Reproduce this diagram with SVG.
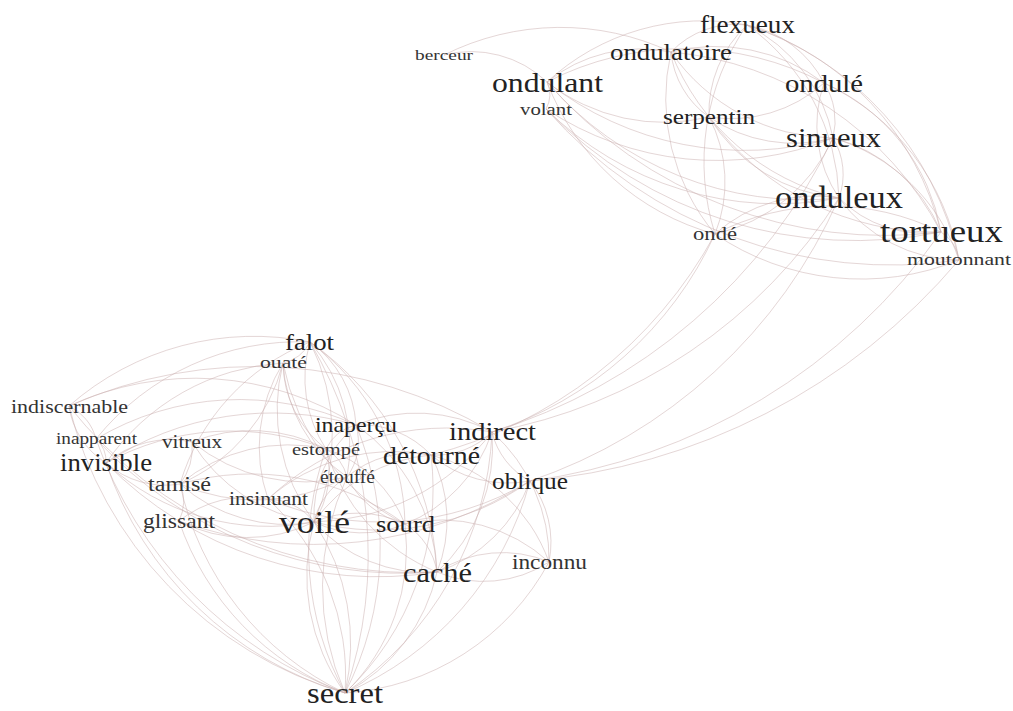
<svg xmlns="http://www.w3.org/2000/svg" width="1013" height="711" viewBox="0 0 1013 711">
<rect width="1013" height="711" fill="#fff"/>
<g id="edges" fill="none" stroke="#c9aeae" stroke-opacity="0.5" stroke-width="1">
<path d="M547 82A230 230 0 0 1 747 25"/>
<path d="M547 82A150 150 0 0 1 671 52"/>
<path d="M547 82A300 300 0 0 1 824 83"/>
<path d="M547 82A320 320 0 0 0 833 138"/>
<path d="M547 82A340 340 0 0 0 839 198"/>
<path d="M547 82A450 450 0 0 0 941 232"/>
<path d="M547 82A30 30 0 0 1 546 109"/>
<path d="M444 55A110 110 0 0 1 547 82"/>
<path d="M444 55A260 260 0 0 1 671 52"/>
<path d="M547 82A190 190 0 0 0 709 117"/>
<path d="M547 82A250 250 0 0 0 715 234"/>
<path d="M546 109A330 330 0 0 0 839 198"/>
<path d="M546 109A430 430 0 0 0 941 232"/>
<path d="M546 109A460 460 0 0 0 959 260"/>
<path d="M747 25A90 90 0 0 0 671 52"/>
<path d="M747 25A110 110 0 0 1 824 83"/>
<path d="M747 25A120 120 0 0 0 709 117"/>
<path d="M747 25A160 160 0 0 1 833 138"/>
<path d="M747 25A220 220 0 0 1 839 198"/>
<path d="M747 25A290 290 0 0 1 941 232"/>
<path d="M747 25A320 320 0 0 1 959 260"/>
<path d="M747 25A240 240 0 0 0 715 234"/>
<path d="M671 52A180 180 0 0 1 824 83"/>
<path d="M671 52A200 200 0 0 0 833 138"/>
<path d="M671 52A240 240 0 0 0 839 198"/>
<path d="M671 52A340 340 0 0 1 941 232"/>
<path d="M671 52A90 90 0 0 0 709 117"/>
<path d="M824 83A70 70 0 0 1 833 138"/>
<path d="M824 83A130 130 0 0 0 839 198"/>
<path d="M824 83A200 200 0 0 1 941 232"/>
<path d="M824 83A140 140 0 0 1 709 117"/>
<path d="M824 83A240 240 0 0 1 959 260"/>
<path d="M709 117A150 150 0 0 0 833 138"/>
<path d="M709 117A170 170 0 0 0 839 198"/>
<path d="M709 117A280 280 0 0 0 941 232"/>
<path d="M709 117A140 140 0 0 1 715 234"/>
<path d="M833 138A70 70 0 0 1 839 198"/>
<path d="M833 138A160 160 0 0 1 941 232"/>
<path d="M833 138A170 170 0 0 1 715 234"/>
<path d="M839 198A120 120 0 0 0 941 232"/>
<path d="M839 198A150 150 0 0 0 715 234"/>
<path d="M839 198A150 150 0 0 0 959 260"/>
<path d="M941 232A40 40 0 0 1 959 260"/>
<path d="M715 234A260 260 0 0 0 959 260"/>
<path d="M715 234A250 250 0 0 1 941 232"/>
<path d="M546 109A310 310 0 0 0 833 138"/>
<path d="M671 52A210 210 0 0 0 715 234"/>
<path d="M833 138A190 190 0 0 1 959 260"/>
<path d="M959 260A630 630 0 0 1 530 481"/>
<path d="M941 232A600 600 0 0 1 530 481"/>
<path d="M839 198A520 520 0 0 1 530 481"/>
<path d="M839 198A520 520 0 0 1 492 432"/>
<path d="M833 138A560 560 0 0 1 492 432"/>
<path d="M715 234A370 370 0 0 1 492 432"/>
<path d="M715 234A450 450 0 0 1 431 455"/>
<path d="M106 463A360 360 0 0 0 345 693"/>
<path d="M69 406A400 400 0 0 0 345 693"/>
<path d="M96 439A420 420 0 0 0 345 693"/>
<path d="M179 521A280 280 0 0 0 345 693"/>
<path d="M180 484A300 300 0 0 0 345 693"/>
<path d="M314 522A200 200 0 0 0 345 693"/>
<path d="M345 693A220 220 0 0 0 314 522"/>
<path d="M268 499A240 240 0 0 1 345 693"/>
<path d="M326 449A300 300 0 0 0 345 693"/>
<path d="M356 425A320 320 0 0 1 345 693"/>
<path d="M345 693A180 180 0 0 0 437 572"/>
<path d="M345 693A200 200 0 0 0 405 524"/>
<path d="M549 562A250 250 0 0 1 345 693"/>
<path d="M431 455A280 280 0 0 1 345 693"/>
<path d="M492 432A330 330 0 0 1 345 693"/>
<path d="M345 693A320 320 0 0 0 530 481"/>
<path d="M345 693A260 260 0 0 1 347 477"/>
<path d="M345 693A420 420 0 0 0 310 342"/>
<path d="M314 522A150 150 0 0 0 437 572"/>
<path d="M314 522A110 110 0 0 1 405 524"/>
<path d="M405 524A110 110 0 0 1 314 522"/>
<path d="M314 522A70 70 0 0 1 347 477"/>
<path d="M314 522A90 90 0 0 0 326 449"/>
<path d="M180 484A160 160 0 0 0 314 522"/>
<path d="M106 463A240 240 0 0 0 314 522"/>
<path d="M314 522A120 120 0 0 1 356 425"/>
<path d="M268 499A60 60 0 0 1 314 522"/>
<path d="M179 521A150 150 0 0 0 314 522"/>
<path d="M310 342A210 210 0 0 1 314 522"/>
<path d="M283 363A190 190 0 0 0 314 522"/>
<path d="M314 522A160 160 0 0 1 431 455"/>
<path d="M314 522A230 230 0 0 0 492 432"/>
<path d="M192 442A170 170 0 0 0 314 522"/>
<path d="M314 522A260 260 0 0 0 530 481"/>
<path d="M437 572A120 120 0 0 1 549 562"/>
<path d="M549 562A120 120 0 0 1 437 572"/>
<path d="M405 524A70 70 0 0 1 437 572"/>
<path d="M106 463A380 380 0 0 0 437 572"/>
<path d="M356 425A190 190 0 0 1 437 572"/>
<path d="M431 455A140 140 0 0 1 437 572"/>
<path d="M492 432A170 170 0 0 1 437 572"/>
<path d="M530 481A150 150 0 0 1 437 572"/>
<path d="M326 449A190 190 0 0 0 437 572"/>
<path d="M69 406A440 440 0 0 0 437 572"/>
<path d="M96 439A420 420 0 0 0 437 572"/>
<path d="M405 524A160 160 0 0 1 549 562"/>
<path d="M431 455A170 170 0 0 1 549 562"/>
<path d="M310 342A300 300 0 0 1 437 572"/>
<path d="M405 524A90 90 0 0 1 347 477"/>
<path d="M310 342A230 230 0 0 1 405 524"/>
<path d="M283 363A230 230 0 0 0 405 524"/>
<path d="M326 449A130 130 0 0 1 405 524"/>
<path d="M180 484A260 260 0 0 1 405 524"/>
<path d="M405 524A150 150 0 0 0 492 432"/>
<path d="M310 342A130 130 0 0 0 326 449"/>
<path d="M310 342A160 160 0 0 1 347 477"/>
<path d="M310 342A40 40 0 0 1 283 363"/>
<path d="M69 406A280 280 0 0 1 310 342"/>
<path d="M96 439A260 260 0 0 1 310 342"/>
<path d="M310 342A110 110 0 0 1 356 425"/>
<path d="M310 342A220 220 0 0 0 180 484"/>
<path d="M283 363A110 110 0 0 0 326 449"/>
<path d="M283 363A150 150 0 0 0 347 477"/>
<path d="M283 363A180 180 0 0 1 180 484"/>
<path d="M106 463A230 230 0 0 1 283 363"/>
<path d="M283 363A160 160 0 0 0 268 499"/>
<path d="M69 406A300 300 0 0 1 356 425"/>
<path d="M69 406A80 80 0 0 0 106 463"/>
<path d="M69 406A50 50 0 0 1 96 439"/>
<path d="M69 406A460 460 0 0 1 492 432"/>
<path d="M96 439A30 30 0 0 1 106 463"/>
<path d="M96 439A280 280 0 0 1 356 425"/>
<path d="M106 463A300 300 0 0 1 356 425"/>
<path d="M106 463A100 100 0 0 1 192 442"/>
<path d="M106 463A90 90 0 0 0 180 484"/>
<path d="M106 463A260 260 0 0 1 326 449"/>
<path d="M192 442A160 160 0 0 1 326 449"/>
<path d="M192 442A60 60 0 0 1 180 484"/>
<path d="M192 442A180 180 0 0 0 347 477"/>
<path d="M180 484A170 170 0 0 1 326 449"/>
<path d="M180 484A190 190 0 0 0 347 477"/>
<path d="M180 484A45 45 0 0 1 179 521"/>
<path d="M179 521A110 110 0 0 1 268 499"/>
<path d="M268 499A260 260 0 0 1 492 432"/>
<path d="M268 499A290 290 0 0 0 530 481"/>
<path d="M268 499A190 190 0 0 1 431 455"/>
<path d="M179 521A400 400 0 0 0 530 481"/>
<path d="M492 432A80 80 0 0 1 431 455"/>
<path d="M492 432A75 75 0 0 0 530 481"/>
<path d="M431 455A120 120 0 0 0 530 481"/>
<path d="M356 425A95 95 0 0 1 431 455"/>
<path d="M356 425A160 160 0 0 1 492 432"/>
<path d="M326 449A45 45 0 0 1 347 477"/>
<path d="M326 449A45 45 0 0 1 356 425"/>
<path d="M347 477A100 100 0 0 1 431 455"/>
<path d="M356 425A60 60 0 0 1 347 477"/>
<path d="M492 432A170 170 0 0 1 549 562"/>
<path d="M530 481A100 100 0 0 1 549 562"/>
</g>
<g id="n-flexueux"><text x="700" y="33" font-size="25" font-family="Liberation Serif" fill="#222" textLength="95" lengthAdjust="spacingAndGlyphs">flexueux</text></g>
<g id="n-ondulatoire"><text x="610" y="60" font-size="24" font-family="Liberation Serif" fill="#222" textLength="122" lengthAdjust="spacingAndGlyphs">ondulatoire</text></g>
<g id="n-berceur"><text x="415" y="60" font-size="15" font-family="Liberation Serif" fill="#333" textLength="58" lengthAdjust="spacingAndGlyphs">berceur</text></g>
<g id="n-ondulant"><text x="492" y="92" font-size="28" font-family="Liberation Serif" fill="#222" textLength="111" lengthAdjust="spacingAndGlyphs">ondulant</text></g>
<g id="n-ondule"><text x="785" y="92" font-size="26" font-family="Liberation Serif" fill="#222" textLength="78" lengthAdjust="spacingAndGlyphs">ondulé</text></g>
<g id="n-volant"><text x="520" y="115" font-size="17" font-family="Liberation Serif" fill="#333" textLength="52" lengthAdjust="spacingAndGlyphs">volant</text></g>
<g id="n-serpentin"><text x="663" y="124" font-size="22" font-family="Liberation Serif" fill="#222" textLength="92" lengthAdjust="spacingAndGlyphs">serpentin</text></g>
<g id="n-sinueux"><text x="786" y="147" font-size="28" font-family="Liberation Serif" fill="#222" textLength="95" lengthAdjust="spacingAndGlyphs">sinueux</text></g>
<g id="n-onduleux"><text x="775" y="208" font-size="31" font-family="Liberation Serif" fill="#222" textLength="128" lengthAdjust="spacingAndGlyphs">onduleux</text></g>
<g id="n-onde"><text x="693" y="240" font-size="18" font-family="Liberation Serif" fill="#333" textLength="44" lengthAdjust="spacingAndGlyphs">ondé</text></g>
<g id="n-tortueux"><text x="880" y="242" font-size="32" font-family="Liberation Serif" fill="#222" textLength="123" lengthAdjust="spacingAndGlyphs">tortueux</text></g>
<g id="n-moutonnant"><text x="907" y="265" font-size="17" font-family="Liberation Serif" fill="#333" textLength="104" lengthAdjust="spacingAndGlyphs">moutonnant</text></g>
<g id="n-falot"><text x="285" y="350" font-size="24" font-family="Liberation Serif" fill="#222" textLength="49" lengthAdjust="spacingAndGlyphs">falot</text></g>
<g id="n-ouate"><text x="260" y="368" font-size="16" font-family="Liberation Serif" fill="#333" textLength="47" lengthAdjust="spacingAndGlyphs">ouaté</text></g>
<g id="n-indiscernable"><text x="11" y="413" font-size="19" font-family="Liberation Serif" fill="#333" textLength="117" lengthAdjust="spacingAndGlyphs">indiscernable</text></g>
<g id="n-inapercu"><text x="315" y="432" font-size="21" font-family="Liberation Serif" fill="#222" textLength="82" lengthAdjust="spacingAndGlyphs">inaperçu</text></g>
<g id="n-indirect"><text x="449" y="440" font-size="25" font-family="Liberation Serif" fill="#222" textLength="87" lengthAdjust="spacingAndGlyphs">indirect</text></g>
<g id="n-inapparent"><text x="56" y="444" font-size="16" font-family="Liberation Serif" fill="#333" textLength="81" lengthAdjust="spacingAndGlyphs">inapparent</text></g>
<g id="n-vitreux"><text x="162" y="448" font-size="18" font-family="Liberation Serif" fill="#333" textLength="60" lengthAdjust="spacingAndGlyphs">vitreux</text></g>
<g id="n-estompe"><text x="292" y="455" font-size="17" font-family="Liberation Serif" fill="#333" textLength="68" lengthAdjust="spacingAndGlyphs">estompé</text></g>
<g id="n-detourne"><text x="383" y="464" font-size="25" font-family="Liberation Serif" fill="#222" textLength="97" lengthAdjust="spacingAndGlyphs">détourné</text></g>
<g id="n-invisible"><text x="60" y="471" font-size="25" font-family="Liberation Serif" fill="#222" textLength="92" lengthAdjust="spacingAndGlyphs">invisible</text></g>
<g id="n-etouffe"><text x="320" y="483" font-size="18" font-family="Liberation Serif" fill="#333" textLength="55" lengthAdjust="spacingAndGlyphs">étouffé</text></g>
<g id="n-oblique"><text x="492" y="489" font-size="23" font-family="Liberation Serif" fill="#222" textLength="76" lengthAdjust="spacingAndGlyphs">oblique</text></g>
<g id="n-tamise"><text x="148" y="491" font-size="20" font-family="Liberation Serif" fill="#333" textLength="63" lengthAdjust="spacingAndGlyphs">tamisé</text></g>
<g id="n-insinuant"><text x="229" y="505" font-size="18" font-family="Liberation Serif" fill="#333" textLength="79" lengthAdjust="spacingAndGlyphs">insinuant</text></g>
<g id="n-glissant"><text x="143" y="528" font-size="21" font-family="Liberation Serif" fill="#333" textLength="72" lengthAdjust="spacingAndGlyphs">glissant</text></g>
<g id="n-voile"><text x="279" y="533" font-size="32" font-family="Liberation Serif" fill="#222" textLength="71" lengthAdjust="spacingAndGlyphs">voilé</text></g>
<g id="n-sourd"><text x="376" y="532" font-size="24" font-family="Liberation Serif" fill="#222" textLength="59" lengthAdjust="spacingAndGlyphs">sourd</text></g>
<g id="n-cache"><text x="403" y="582" font-size="28" font-family="Liberation Serif" fill="#222" textLength="69" lengthAdjust="spacingAndGlyphs">caché</text></g>
<g id="n-inconnu"><text x="512" y="569" font-size="20" font-family="Liberation Serif" fill="#333" textLength="75" lengthAdjust="spacingAndGlyphs">inconnu</text></g>
<g id="n-secret"><text x="307" y="703" font-size="29" font-family="Liberation Serif" fill="#222" textLength="76" lengthAdjust="spacingAndGlyphs">secret</text></g>
</svg>
